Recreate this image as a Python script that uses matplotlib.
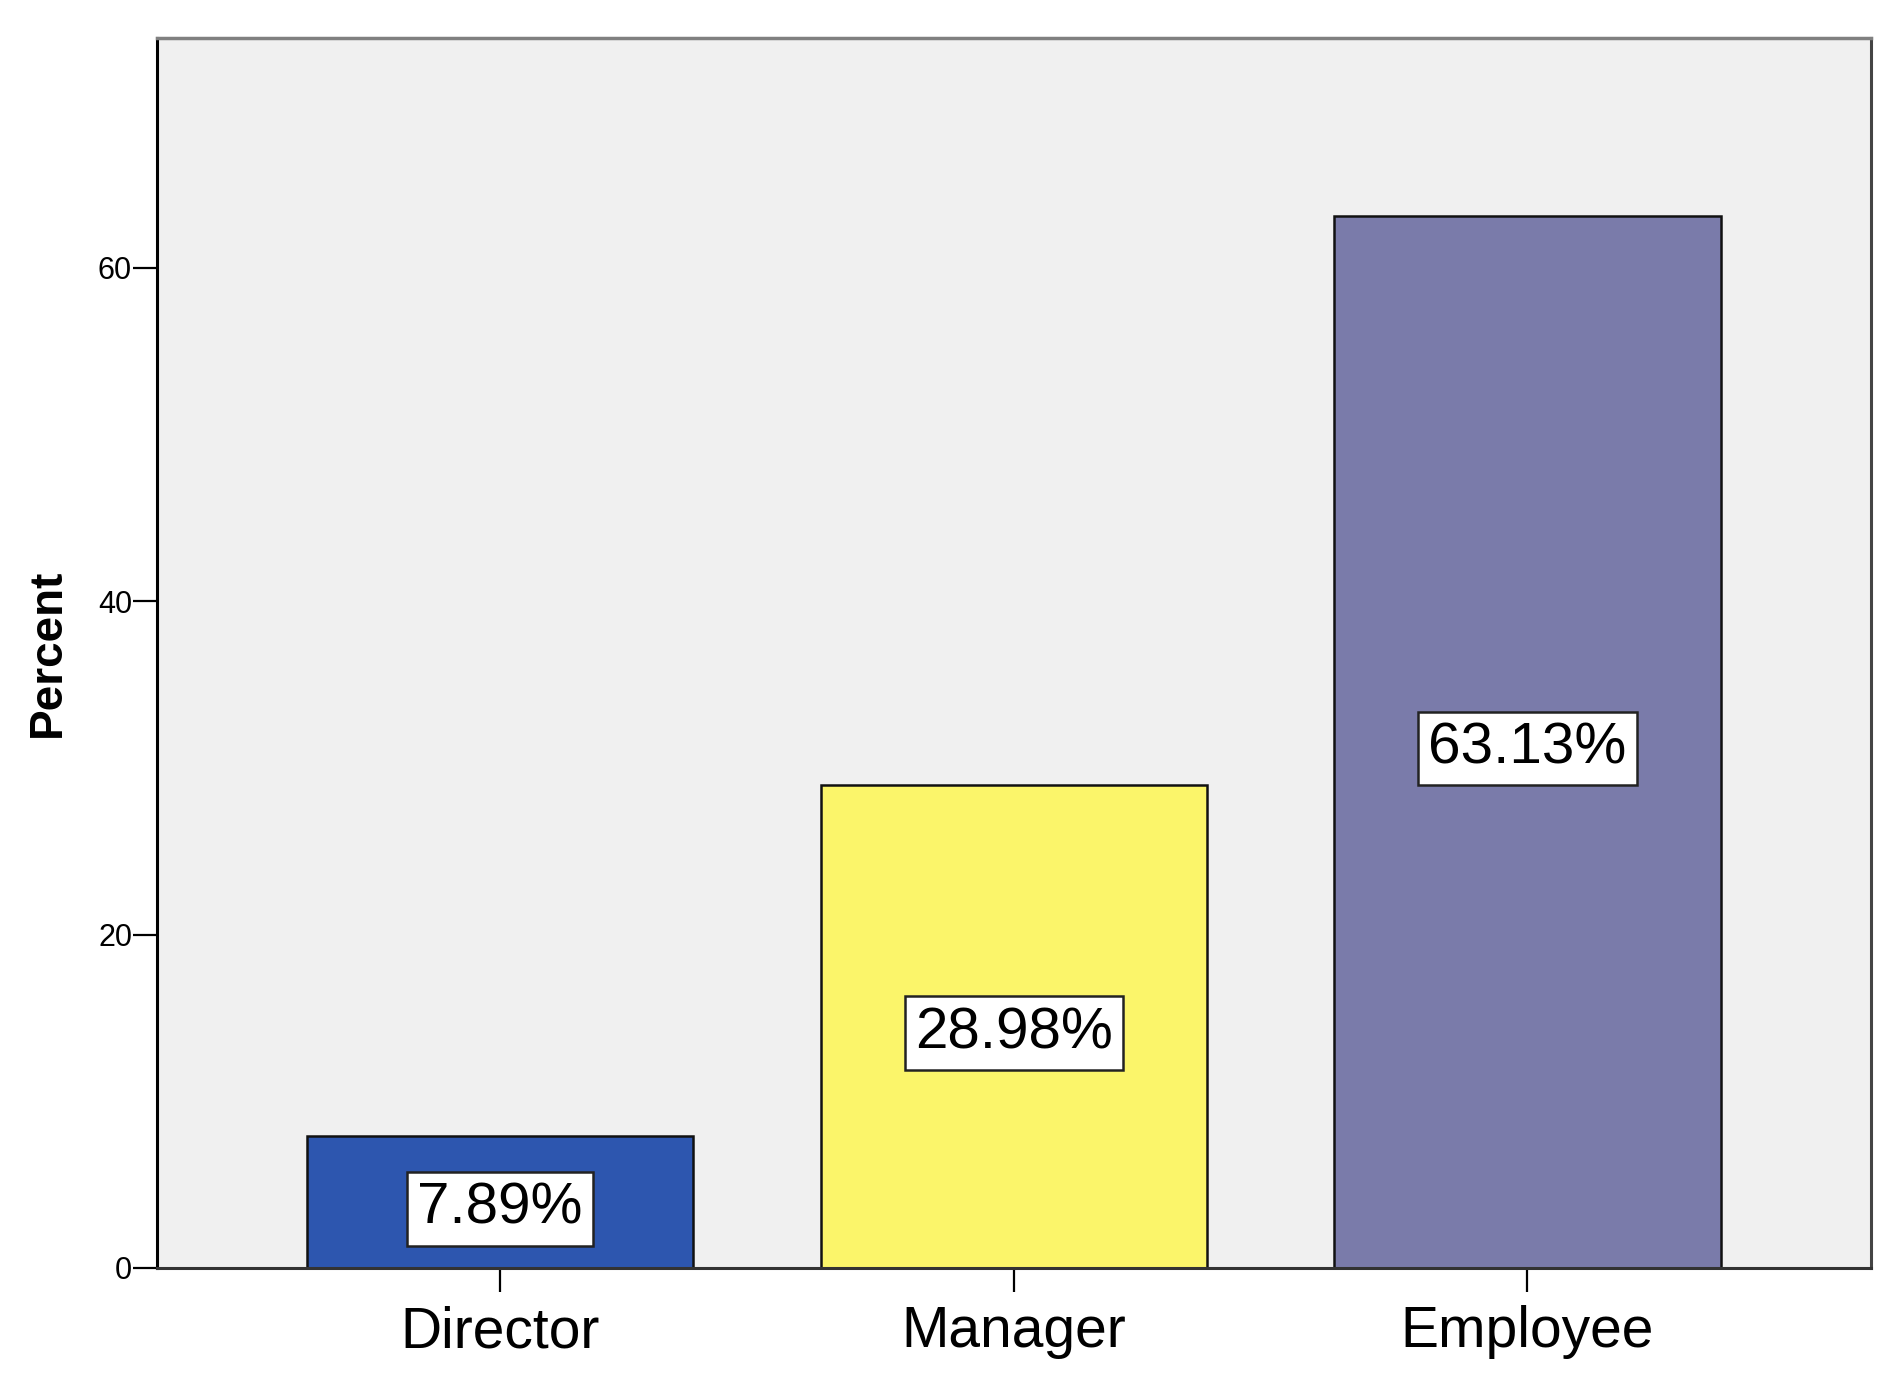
import matplotlib.pyplot as plt

plt.rcParams['font.family'] = ['Liberation Sans', 'DejaVu Sans']

categories = ['Director', 'Manager', 'Employee']
percents = [7.89, 28.98, 63.13]
colors = ['#2D56AF', '#FBF56A', '#7A7BAA']
yticks = [0, 20, 40, 60]

fig = plt.figure(figsize=(18.99, 13.79), dpi=100)
ax = fig.add_axes([0.0827, 0.0805, 0.9026, 0.892])
ax.set_facecolor('#F0F0F0')

pos = list(range(len(categories)))
ax.bar(pos, percents, width=0.752, color=colors, edgecolor='#111111', linewidth=1.8, zorder=2)

# value labels in white boxes, centred on each bar
for x, v in zip(pos, percents):
    ax.text(x, v / 2 - 0.4, f"{v:.2f}%", ha='center', va='center', fontsize=42, zorder=3,
            bbox=dict(boxstyle='square,pad=0.17', facecolor='white', edgecolor='#222222', linewidth=1.8))

ax.set_xlim(-0.668, 2.669)
ax.set_ylim(0, 73.8)
ax.set_xticks(pos)
ax.set_xticklabels(categories, fontsize=41)
ax.set_yticks(yticks)
ax.set_yticklabels([str(t) for t in yticks], fontsize=22)
ax.tick_params(axis='y', length=17, width=1.6, pad=1)
ax.tick_params(axis='x', length=17, width=1.6, pad=10)
ax.set_ylabel('Percent', fontsize=33, fontweight='bold', labelpad=20)

ax.spines['left'].set_color('black')
ax.spines['left'].set_linewidth(2.2)
ax.spines['bottom'].set_color('#333333')
ax.spines['bottom'].set_linewidth(2.2)
ax.spines['top'].set_color('#808080')
ax.spines['top'].set_linewidth(2.5)
ax.spines['right'].set_color('#444444')
ax.spines['right'].set_linewidth(2.2)

plt.savefig('out.png', dpi=100)
